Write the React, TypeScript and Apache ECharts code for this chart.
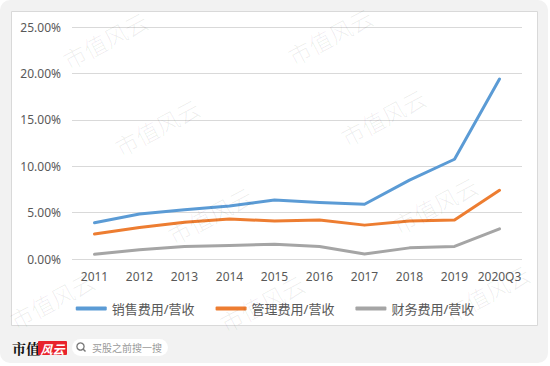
import React, { useEffect, useRef } from "react";
import * as echarts from "echarts";

const categories = ["2011", "2012", "2013", "2014", "2015", "2016", "2017", "2018", "2019", "2020Q3"];
const salesRatio = [0.039, 0.0485, 0.053, 0.057, 0.0635, 0.061, 0.059, 0.085, 0.1075, 0.194];
const adminRatio = [0.027, 0.034, 0.0395, 0.043, 0.041, 0.042, 0.0365, 0.041, 0.042, 0.074];
const financeRatio = [0.005, 0.01, 0.0135, 0.0145, 0.016, 0.0135, 0.0055, 0.012, 0.0135, 0.0325];
const seriesNames = ["销售费用/营收", "管理费用/营收", "财务费用/营收"];
const yTicks = { min: 0, max: 0.25, interval: 0.05 };

const watermarkCenters = [
  [52, 300],
  [105, 40], [157, 127], [210, 215], [262, 303],
  [330, 36], [383, 117], [435, 205], [487, 293],
];

export default function App() {
  const ref = useRef<HTMLDivElement>(null);
  useEffect(() => {
    if (!ref.current) return;
    const chart = echarts.init(ref.current, undefined, { renderer: "svg" });
    const font = "'Noto Sans', 'Noto Sans CJK SC', sans-serif";
    const watermarks = watermarkCenters.map(([x, y]) => ({
      type: "text",
      x,
      y,
      rotation: (28 * Math.PI) / 180,
      z: 100,
      silent: true,
      style: {
        text: "市值风云",
        fontSize: 23,
        fontFamily: "'Noto Sans CJK SC', sans-serif",
        fontWeight: 300,
        fill: "rgba(0,0,0,0.07)",
        align: "center",
        verticalAlign: "middle",
      },
    }));
    chart.setOption({
      animation: false,
      backgroundColor: "#ffffff",
      graphic: [
        {
          type: "rect",
          z: -10,
          shape: { x: 0, y: 0, width: 548, height: 363, r: 10 },
          style: { fill: "#f2f2f2" },
        },
        {
          type: "rect",
          z: -9,
          shape: { x: 11.5, y: 11.5, width: 526, height: 314 },
          style: { fill: "#ffffff", stroke: "#d9d9d9", lineWidth: 1 },
        },
        {
          type: "text",
          x: 12,
          y: 348,
          style: {
            text: "市值",
            fontSize: 14,
            fontWeight: "bold",
            fontFamily: "'Noto Serif CJK SC', 'Noto Sans CJK SC', serif",
            fill: "#111",
            verticalAlign: "middle",
          },
        },
        {
          type: "rect",
          shape: { x: 38, y: 341, width: 29, height: 14, r: 1 },
          style: { fill: "#e8232c" },
        },
        {
          type: "text",
          x: 52.5,
          y: 348,
          style: {
            text: "风云",
            fontSize: 12,
            fontStyle: "italic",
            fontWeight: "bold",
            fontFamily: "'Noto Sans CJK SC', sans-serif",
            fill: "#ffffff",
            align: "center",
            verticalAlign: "middle",
          },
        },
        {
          type: "rect",
          shape: { x: 72, y: 339, width: 96, height: 17, r: 8.5 },
          style: { fill: "#ffffff" },
        },
        {
          type: "circle",
          shape: { cx: 80.5, cy: 346.5, r: 3.6 },
          style: { fill: "none", stroke: "#777", lineWidth: 1.3 },
        },
        {
          type: "line",
          shape: { x1: 83, y1: 349, x2: 85.5, y2: 351.5 },
          style: { stroke: "#777", lineWidth: 1.4 },
        },
        {
          type: "text",
          x: 92,
          y: 347.5,
          style: {
            text: "买股之前搜一搜",
            fontSize: 10,
            fontFamily: "'Noto Sans CJK SC', sans-serif",
            fill: "#9a9a9a",
            verticalAlign: "middle",
          },
        },
        ...watermarks,
      ],
      grid: { left: 72, right: 28, top: 27, bottom: 107, containLabel: false },
      legend: {
        data: seriesNames,
        left: "center",
        top: 297,
        icon: "roundRect",
        itemWidth: 31,
        itemHeight: 4,
        itemGap: 21,
        textStyle: { fontSize: 13, color: "#595959", fontFamily: font },
      },
      xAxis: {
        type: "category",
        data: categories,
        boundaryGap: true,
        axisLine: { show: false },
        axisTick: { show: false },
        axisLabel: { color: "#595959", fontSize: 12, margin: 11, fontFamily: font, interval: 0 },
      },
      yAxis: {
        type: "value",
        min: yTicks.min,
        max: yTicks.max,
        interval: yTicks.interval,
        axisLine: { show: false },
        axisTick: { show: false },
        splitLine: { lineStyle: { color: "#d9d9d9", width: 1 } },
        axisLabel: {
          color: "#595959",
          fontSize: 12,
          margin: 11,
          fontFamily: font,
          formatter: (v: number) => (v * 100).toFixed(2) + "%",
        },
      },
      series: [
        { name: seriesNames[0], data: salesRatio, color: "#5b9bd5" },
        { name: seriesNames[1], data: adminRatio, color: "#ed7d31" },
        { name: seriesNames[2], data: financeRatio, color: "#a5a5a5" },
      ].map((s) => ({
        type: "line",
        name: s.name,
        data: s.data,
        itemStyle: { color: s.color },
        lineStyle: { color: s.color, width: 3, cap: "round", join: "round" },
        symbol: "none",
        smooth: false,
      })),
    });
    return () => chart.dispose();
  }, []);
  return (
    <div
      ref={ref}
      style={{ position: "absolute", left: 0, top: 0, width: 550, height: 366 }}
    />
  );
}
